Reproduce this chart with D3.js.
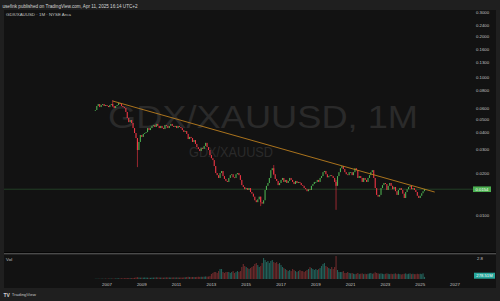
<!DOCTYPE html>
<html>
<head>
<meta charset="utf-8">
<script src="https://cdnjs.cloudflare.com/ajax/libs/d3/7.8.5/d3.min.js"></script>
<style>
  body { margin: 0; background: #1f1f1f; }
  svg { display: block; font-family: "Liberation Sans", Arial, sans-serif; }
</style>
</head>
<body>
<svg id="chart" width="500" height="301"></svg>
<script>
// monthly GDX/XAUUSD, first bar May 2006
const firstBar = [2006, 4];
const firstOpen = 0.0575;
const closes = [
  // 2006 (May-Dec)
  0.0581, 0.0621, 0.0642, 0.0610, 0.0631, 0.0642, 0.0621, 0.0631,
  // 2007
  0.0621, 0.0610, 0.0631, 0.0642, 0.0621, 0.0600, 0.0621, 0.0631, 0.0653, 0.0642, 0.0621, 0.0610,
  // 2008
  0.0600, 0.0562, 0.0508, 0.0474, 0.0491, 0.0467, 0.0429, 0.0395, 0.0363, 0.0297, 0.0340, 0.0382,
  // 2009
  0.0370, 0.0389, 0.0395, 0.0401, 0.0429, 0.0415, 0.0429, 0.0445, 0.0452, 0.0437, 0.0460, 0.0445,
  // 2010
  0.0429, 0.0445, 0.0429, 0.0422, 0.0452, 0.0445, 0.0429, 0.0445, 0.0460, 0.0445, 0.0437, 0.0445,
  // 2011
  0.0429, 0.0445, 0.0437, 0.0429, 0.0415, 0.0402, 0.0408, 0.0389, 0.0357, 0.0370, 0.0363, 0.0340,
  // 2012
  0.0351, 0.0329, 0.0312, 0.0302, 0.0292, 0.0307, 0.0302, 0.0318, 0.0335, 0.0312, 0.0297, 0.0273,
  // 2013
  0.0259, 0.0251, 0.0227, 0.0202, 0.0195, 0.0186, 0.0202, 0.0209, 0.0192, 0.0183, 0.0177, 0.0174,
  // 2014
  0.0186, 0.0195, 0.0198, 0.0188, 0.0186, 0.0198, 0.0202, 0.0195, 0.0180, 0.0165, 0.0160, 0.0154,
  // 2015
  0.0157, 0.0152, 0.0157, 0.0147, 0.0143, 0.0136, 0.0128, 0.0124, 0.0130, 0.0136, 0.0124, 0.0121,
  // 2016
  0.0128, 0.0152, 0.0163, 0.0171, 0.0186, 0.0212, 0.0219, 0.0198, 0.0183, 0.0177, 0.0165, 0.0171,
  // 2017
  0.0180, 0.0186, 0.0174, 0.0180, 0.0171, 0.0177, 0.0186, 0.0180, 0.0174, 0.0168, 0.0177, 0.0171,
  // 2018
  0.0174, 0.0171, 0.0165, 0.0163, 0.0157, 0.0154, 0.0149, 0.0154, 0.0152, 0.0163, 0.0168, 0.0174,
  // 2019
  0.0174, 0.0180, 0.0174, 0.0186, 0.0192, 0.0205, 0.0209, 0.0198, 0.0188, 0.0192, 0.0195, 0.0192,
  // 2020
  0.0186, 0.0174, 0.0163, 0.0192, 0.0205, 0.0219, 0.0227, 0.0216, 0.0205, 0.0198, 0.0195, 0.0205,
  // 2021
  0.0205, 0.0195, 0.0205, 0.0219, 0.0212, 0.0186, 0.0192, 0.0186, 0.0174, 0.0186, 0.0180, 0.0174,
  // 2022
  0.0186, 0.0195, 0.0205, 0.0212, 0.0186, 0.0157, 0.0140, 0.0136, 0.0140, 0.0157, 0.0165, 0.0171,
  // 2023
  0.0168, 0.0152, 0.0163, 0.0171, 0.0163, 0.0154, 0.0160, 0.0149, 0.0140, 0.0152, 0.0157, 0.0152,
  // 2024
  0.0143, 0.0133, 0.0147, 0.0154, 0.0160, 0.0163, 0.0154, 0.0157, 0.0152, 0.0147, 0.0138, 0.0133,
  // 2025 (Jan-Apr)
  0.0138, 0.0144, 0.0149, 0.0154
];
// volume in millions of shares
const volumes = [
  30, 35, 40, 40, 45, 45, 50, 50,
  55, 60, 60, 65, 60, 65, 70, 90, 85, 90, 95, 90,
  110, 120, 130, 120, 110, 120, 130, 160, 210, 240, 200, 180,
  190, 180, 200, 190, 180, 170, 160, 180, 190, 200, 220, 210,
  200, 190, 190, 180, 200, 220, 210, 200, 190, 200, 210, 200,
  210, 200, 190, 200, 190, 210, 230, 270, 300, 260, 250, 270,
  260, 250, 280, 300, 280, 300, 290, 310, 340, 320, 330, 380,
  670, 800, 930, 930, 800, 1060, 1330, 1330, 930, 800, 930, 930,
  930, 800, 930, 1060, 800, 930, 1060, 930, 1060, 1600, 2000, 1730,
  1600, 1460, 1330, 1460, 1600, 1730, 2000, 2130, 1860, 1600, 1730, 2130,
  2800, 2530, 2260, 2400, 2130, 2400, 2530, 2260, 2130, 2260, 2000, 2130,
  1860, 1600, 1460, 1330, 1200, 1060, 1200, 1060, 1330, 1200, 1060, 930,
  1060, 1200, 1060, 1060, 930, 1060, 1200, 1330, 1600, 1460, 1330, 1200,
  1330, 1200, 1330, 1460, 1730, 2000, 2130, 1730, 1600, 1460, 1330, 1600,
  1330, 1600, 3060, 1200, 930, 930, 930, 1060, 800, 800, 930, 800,
  750, 800, 700, 650, 700, 800, 650, 700, 750, 650, 700, 650,
  700, 750, 800, 700, 750, 900, 800, 750, 700, 750, 700, 650,
  700, 750, 700, 650, 700, 650, 700, 750, 650, 700, 650, 600,
  650, 700, 750, 650, 700, 750, 650, 700, 650, 650, 700, 650,
  700, 650, 750, 279
];
// visible wicks
const wicks = [
  { month: '2007-05', high: 0.0686, low: 0.0610 },
  { month: '2008-10', high: 0.0363, low: 0.0223 },
  { month: '2015-11', high: 0.0136, low: 0.0116 },
  { month: '2016-08', high: 0.0231, low: 0.0195 },
  { month: '2020-03', high: 0.0180, low: 0.0109 }
];
const trendLine = [
  { month: '2007-05', price: 0.0675 },
  { month: '2025-11', price: 0.01469 }
];
const priceTicks = [0.3, 0.24, 0.2, 0.16, 0.13, 0.1, 0.08, 0.06, 0.05, 0.04, 0.03, 0.02, 0.01];
const yearTicks = [2007, 2009, 2011, 2013, 2015, 2017, 2019, 2021, 2023, 2025, 2027];
const lastPriceLabel = '0.0154';
const lastVolumeLabel = '278.51M';
const volumeAxisLabel = '2.8';

const upColor = '#4caf50';
const downColor = '#f23645';

const svg = d3.select('#chart');
const parseMonth = d3.timeParse('%Y-%m');

const bars = closes.map((c, i) => {
  const date = new Date(firstBar[0], firstBar[1] + i, 1);
  const open = i === 0 ? firstOpen : closes[i - 1];
  const w = wicks.find(d => +parseMonth(d.month) === +date);
  return {
    date, open, close: c, volume: volumes[i],
    high: w ? w.high : Math.max(open, c),
    low: w ? w.low : Math.min(open, c)
  };
});

const x = d3.scaleTime()
  .domain([new Date(2007, 0, 1), new Date(2027, 0, 1)])
  .range([107, 455]);
const y = d3.scaleLog().domain([0.01, 0.3]).range([215, 12]);
const yVol = d3.scaleLinear().domain([0, 2800]).range([279, 258]);

// frame
svg.append('rect').attr('x', 4).attr('y', 10).attr('width', 492).attr('height', 278).attr('fill', '#121212');
svg.append('rect').attr('x', 4).attr('y', 252).attr('width', 492).attr('height', 1).attr('fill', '#050505');
svg.append('rect').attr('x', 4).attr('y', 253).attr('width', 492).attr('height', 1.4).attr('fill', '#4a4a4a');

svg.append('text')
  .attr('x', 2.5).attr('y', 7.6)
  .attr('font-size', 4.6).attr('fill', '#d6d6d6')
  .text('usefink published on TradingView.com, Apr 11, 2025 16:14 UTC+2');

svg.append('text')
  .attr('x', 6).attr('y', 16)
  .attr('font-size', 4.4).attr('fill', '#c4c4c4')
  .text('GDX/XAUUSD · 1M · NYSE Arca');

// watermark
svg.append('text')
  .attr('x', 108).attr('y', 128)
  .attr('font-size', 32).attr('fill', '#2a2a2a')
  .attr('textLength', 310).attr('lengthAdjust', 'spacingAndGlyphs')
  .text('GDX/XAUUSD, 1M');
svg.append('text')
  .attr('x', 189).attr('y', 157)
  .attr('font-size', 14.5).attr('fill', '#2a2a2a')
  .attr('textLength', 84).attr('lengthAdjust', 'spacingAndGlyphs')
  .text('GDX/XAUUSD');

// price axis
svg.append('g').selectAll('text')
  .data(priceTicks)
  .join('text')
  .attr('x', 476)
  .attr('y', d => y(d) + 1.6)
  .attr('font-size', 4.3)
  .attr('fill', '#c4c4c4')
  .text(d => d3.format('.4f')(d));

// time axis
svg.append('g').selectAll('text')
  .data(yearTicks)
  .join('text')
  .attr('x', d => x(new Date(d, 0, 1)))
  .attr('y', 285.6)
  .attr('text-anchor', 'middle')
  .attr('font-size', 4.4)
  .attr('fill', '#c4c4c4')
  .text(d => d);

// last price line
const lastClose = closes[closes.length - 1];
svg.append('line')
  .attr('x1', 4).attr('x2', 473)
  .attr('y1', y(lastClose)).attr('y2', y(lastClose))
  .attr('stroke', '#2d5a33').attr('stroke-width', 0.6);

// volume
svg.append('g').selectAll('rect')
  .data(bars)
  .join('rect')
  .attr('x', d => x(d.date) - 0.55)
  .attr('width', 1.1)
  .attr('y', d => yVol(d.volume))
  .attr('height', d => yVol(0) - yVol(d.volume))
  .attr('fill', d => d.close >= d.open ? '#23615a' : '#6e2b2c');

// wicks
svg.append('g').selectAll('line')
  .data(bars.filter(d => d.high > Math.max(d.open, d.close) || d.low < Math.min(d.open, d.close)))
  .join('line')
  .attr('x1', d => x(d.date)).attr('x2', d => x(d.date))
  .attr('y1', d => y(d.high)).attr('y2', d => y(d.low))
  .attr('stroke', d => d.close >= d.open ? upColor : downColor)
  .attr('stroke-width', 0.6);

// candles
svg.append('g').selectAll('rect')
  .data(bars)
  .join('rect')
  .attr('x', d => x(d.date) - 0.55)
  .attr('width', 1.1)
  .attr('y', d => y(Math.max(d.open, d.close)))
  .attr('height', d => Math.max(0.8, Math.abs(y(d.open) - y(d.close))))
  .attr('fill', d => d.close >= d.open ? upColor : downColor);

// trend line
svg.append('line')
  .attr('x1', x(parseMonth(trendLine[0].month))).attr('y1', y(trendLine[0].price))
  .attr('x2', x(parseMonth(trendLine[1].month))).attr('y2', y(trendLine[1].price))
  .attr('stroke', '#d08c1f').attr('stroke-width', 0.8);

// labels on the right scale
svg.append('rect').attr('x', 473).attr('y', y(lastClose) - 2.8).attr('width', 18).attr('height', 5.6).attr('fill', '#4caf50');
svg.append('text')
  .attr('x', 482).attr('y', y(lastClose) + 1.5)
  .attr('text-anchor', 'middle').attr('font-size', 4.2).attr('fill', '#ffffff')
  .text(lastPriceLabel);

svg.append('text')
  .attr('x', 6).attr('y', 260.5)
  .attr('font-size', 4.4).attr('fill', '#c4c4c4')
  .text('Vol');
svg.append('text')
  .attr('x', 477).attr('y', 260)
  .attr('font-size', 4.3).attr('fill', '#c4c4c4')
  .text(volumeAxisLabel);
svg.append('rect').attr('x', 474).attr('y', 272.7).attr('width', 21).attr('height', 6).attr('fill', '#26a69a');
svg.append('text')
  .attr('x', 484.5).attr('y', 277.3)
  .attr('text-anchor', 'middle').attr('font-size', 4.2).attr('fill', '#ffffff')
  .text(lastVolumeLabel);

// footer
svg.append('text')
  .attr('x', 3.5).attr('y', 296.6)
  .attr('font-size', 5).attr('font-weight', 'bold').attr('fill', '#d6d6d6')
  .text('TV');
svg.append('text')
  .attr('x', 11.8).attr('y', 296.4)
  .attr('font-size', 4.4).attr('fill', '#c4c4c4')
  .text('TradingView');
</script>
</body>
</html>
